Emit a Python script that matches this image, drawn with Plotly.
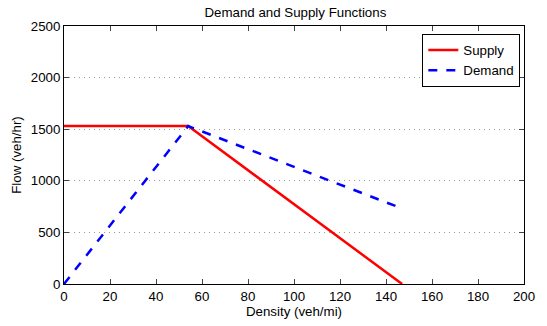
import plotly.graph_objects as go

supply_x = [0, 54, 147]
supply_y = [1530, 1530, 0]
demand_x = [0, 54, 146]
demand_y = [0, 1530, 740]

x_ticks = [0, 20, 40, 60, 80, 100, 120, 140, 160, 180, 200]
y_ticks = [0, 500, 1000, 1500, 2000, 2500]

fig = go.Figure()
fig.add_trace(go.Scatter(x=supply_x, y=supply_y, mode="lines", name="Supply",
                         line=dict(color="#ff0000", width=2.5)))
fig.add_trace(go.Scatter(x=demand_x, y=demand_y, mode="lines", name="Demand",
                         line=dict(color="#0000ff", width=2.5, dash="dash")))

font = "Liberation Sans, Arial, sans-serif"
fig.update_layout(
    width=547, height=326,
    margin=dict(l=64, r=18, t=26, b=42),
    paper_bgcolor="white", plot_bgcolor="white",
    font=dict(family=font, size=13.3, color="black"),
    title=dict(text="Demand and Supply Functions", x=0.54, xanchor="center",
               y=0.963, yanchor="middle", font=dict(size=13.3)),
    legend=dict(x=0.992, y=0.97, xanchor="right", yanchor="top",
                bordercolor="black", borderwidth=1, bgcolor="white",
                font=dict(size=13.3), tracegroupgap=0),
    showlegend=True,
)
fig.update_xaxes(range=[0, 200], tickvals=x_ticks, ticks="inside", ticklen=5,
                 showline=True, linecolor="black", linewidth=1, mirror="allticks",
                 showgrid=False, zeroline=False, tickfont=dict(size=13.3),
                 title=dict(text="Density (veh/mi)", standoff=0, font=dict(size=13.3)))
fig.update_yaxes(range=[0, 2500], tickvals=y_ticks, ticks="inside", ticklen=5,
                 showline=True, linecolor="black", linewidth=1, mirror="allticks",
                 showgrid=True, gridcolor="#999999", griddash="1px,4px", gridwidth=1,
                 zeroline=False, tickfont=dict(size=13.3),
                 title=dict(text="Flow (veh/hr)", standoff=6, font=dict(size=13.3)))

fig.write_html("out.html")
